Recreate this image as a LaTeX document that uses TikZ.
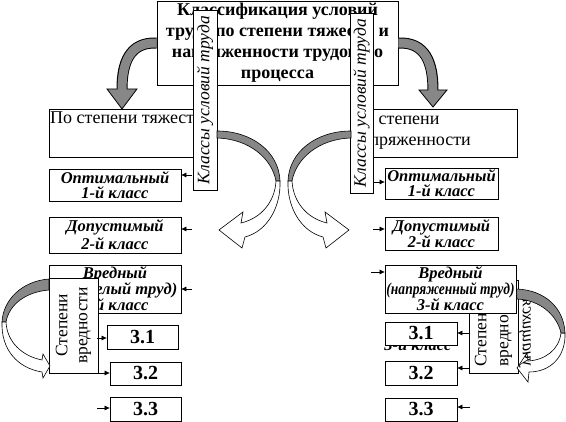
\documentclass[tikz,border=0pt]{standalone}
\usepackage{fontspec}
\setmainfont{Liberation Serif}
\usepackage{graphicx}
\usetikzlibrary{arrows.meta}
\definecolor{bandgray}{HTML}{878787}
\tikzset{
  bx/.style={draw=black, fill=white, line width=0.8pt, inner sep=0pt, align=center},
  clsA/.style={font=\bfseries\itshape\fontsize{16.5}{15}\selectfont},
  num/.style={font=\bfseries\fontsize{20}{20}\selectfont},
  plain/.style={font=\fontsize{18}{21}\selectfont},
  vtxt/.style={font=\itshape\fontsize{17.5}{17.5}\selectfont},
  sarr/.style={line width=0.7pt, -{Triangle[length=5pt,width=4.5pt]}},
  grayband/.style={fill=bandgray, draw=black, line width=0.6pt},
  whiteband/.style={fill=white, draw=black, line width=0.6pt},
}
\begin{document}
\begin{tikzpicture}[x=1pt,y=-1pt]
\useasboundingbox (0,0) rectangle (566,422);
\fill[white] (0,0) rectangle (566,422);

% title
\node[bx, minimum width=241pt, minimum height=84pt,
      font=\bfseries\fontsize{18}{21}\selectfont] (title) at (277.5,43)
  {Классификация условий\\труда по степени тяжести и\\напряженности трудового\\процесса};

% big gray arrows
\draw[line width=11pt, black] (title.west) .. controls (130,42) and (122,62) .. (122,89);
\filldraw[fill=bandgray, draw=black, line width=0.8pt] (107,89) -- (137,89) -- (122,109) -- cycle;
\draw[line width=9pt, bandgray] (title.west) .. controls (130,42) and (122,62) .. (122,90.5);

\draw[line width=11pt, black] (title.east) .. controls (425,42) and (433,62) .. (433,90);
\filldraw[fill=bandgray, draw=black, line width=0.8pt] (419,90) -- (447,90) -- (433,107) -- cycle;
\draw[line width=9pt, bandgray] (title.east) .. controls (425,42) and (433,62) .. (433,91.5);

% По степени boxes
\node[bx, minimum width=161pt, minimum height=48pt] (pl) at (129.5,133) {};
\node[plain, inner sep=0pt, anchor=base west] (plt) at (50,124) {По степени тяжести};
\node[bx, minimum width=162pt, minimum height=48pt] (pr) at (436,133) {};
\node[plain, inner sep=0pt, anchor=north west, align=left] (prt) at (352,113) {По степени\\напряженности};

% vertical boxes
\node[bx, vtxt, rotate=90, minimum width=180pt, minimum height=24pt] (vl) at (205,100) {Классы условий труда};
\node[bx, vtxt, rotate=90, minimum width=180pt, minimum height=23pt] (vr) at (361.5,103) {Классы условий труда};

% middle curved arrows
\filldraw[grayband] (217,131) .. controls (252,131) and (279,152) .. (280,181) -- (276,181) .. controls (272,159) and (250,139) .. (217,138) -- cycle;
\filldraw[whiteband] (276,181) .. controls (275,201) and (262,218) .. (241,223) -- (243,212) -- (219,230) -- (242,248) -- (245,237) .. controls (268,231) and (281,206) .. (280,181) -- cycle;
\begin{scope}[shift={(568,0)}, xscale=-1]
\filldraw[grayband] (217,131) .. controls (252,131) and (279,152) .. (280,181) -- (276,181) .. controls (272,159) and (250,139) .. (217,138) -- cycle;
\filldraw[whiteband] (276,181) .. controls (275,201) and (262,218) .. (241,223) -- (243,212) -- (219,230) -- (242,248) -- (245,237) .. controls (268,231) and (281,206) .. (280,181) -- cycle;
\end{scope}

% class boxes, left
\node[bx, clsA, minimum width=132pt, minimum height=32pt] (lo) at (115,185) {Оптимальный\\1-й класс};
\node[bx, font=\bfseries\itshape\fontsize{16.5}{18}\selectfont, minimum width=132pt, minimum height=36pt] (ld) at (115,235) {Допустимый\\2-й класс};
\node[bx, font=\bfseries\itshape\fontsize{16.5}{16}\selectfont, minimum width=132pt, minimum height=48pt] (lv) at (115,289) {Вредный\\(тяжелый труд)\\3-й класс};

% class boxes, right
\node[bx, clsA, minimum width=113pt, minimum height=31pt] (ro) at (441.5,183.5) {Оптимальный\\1-й класс};
\node[bx, font=\bfseries\itshape\fontsize{16.5}{16}\selectfont, minimum width=113pt, minimum height=33pt] (rd) at (441.5,233.5) {Допустимый\\2-й класс};
\node[bx, rotate=90, minimum width=93pt, minimum height=49pt, text width=80pt, align=left,
      font=\fontsize{17.5}{22}\selectfont] (sr) at (493.5,326.5) {Степени\\вредности};
\node[bx, font=\bfseries\itshape\fontsize{16.5}{16}\selectfont, minimum width=131pt, minimum height=48pt] (rv) at (450.5,289)
  {Вредный\\\resizebox{128pt}{\height}{(напряженный труд)}\\3-й класс};

% left degrees box
\node[bx, rotate=90, minimum width=95pt, minimum height=49pt, font=\fontsize{17.5}{20}\selectfont] (sl) at (73.5,325.5) {Степени\\вредности};

% lower curved arrows
\filldraw[grayband] (49,279) .. controls (22,281) and (3,300) .. (2,322) -- (6,322) .. controls (9,305) and (25,292) .. (49,290) -- cycle;
\filldraw[whiteband] (6,322) .. controls (7,342) and (22,356) .. (42,360) -- (43,354) -- (50,366) -- (43,378) -- (42,372) .. controls (17,368) and (1,349) .. (2,322) -- cycle;

\filldraw[whiteband] (561,333) .. controls (559,350) and (545,360) .. (528,361) -- (527,353) -- (517,368) -- (528,382) -- (529,372) .. controls (551,372) and (566,356) .. (565,333) -- cycle;
\node[rotate=90, yscale=-1, anchor=west, inner sep=0pt, font=\itshape\fontsize{17}{17}\selectfont] (uch) at (525,367) {учащихся};
\filldraw[grayband] (rv.east |- 0,289) .. controls (545,290) and (564,308) .. (565,333) -- (561,333) .. controls (557,315) and (540,300) .. (517,299) -- cycle;

% 3.x boxes
\node[clsA, anchor=base, inner sep=0pt] (ghost) at (418,351) {3-й класс};
\node[bx, num, minimum width=71pt, minimum height=24pt] (l1) at (142.5,337) {3.1};
\node[bx, num, minimum width=71pt, minimum height=23pt] (l2) at (145.5,373.5) {3.2};
\node[bx, num, minimum width=71pt, minimum height=24pt] (l3) at (145.5,409) {3.3};
\node[bx, num, minimum width=72pt, minimum height=23pt] (r1) at (421,333.5) {3.1};
\node[bx, num, minimum width=72pt, minimum height=24pt] (r2) at (421,373) {3.2};
\node[bx, num, minimum width=72pt, minimum height=23pt] (r3) at (421,409.5) {3.3};

% small arrows
\coordinate (a1) at (192,175); \draw[sarr] (a1) -- (a1 -| lo.east);
\coordinate (a2) at (192,229); \draw[sarr] (a2) -- (a2 -| ld.east);
\coordinate (a3) at (192,289); \draw[sarr] (a3) -- (a3 -| lv.east);
\coordinate (b1) at (373,182); \draw[sarr] (b1) -- (b1 -| ro.west);
\coordinate (b2) at (373,229); \draw[sarr] (b2) -- (b2 -| rd.west);
\coordinate (b3) at (371,272); \draw[sarr] (b3) -- (b3 -| rv.west);
\coordinate (c1) at (97,338); \draw[sarr] (c1) -- (c1 -| l1.west);
\coordinate (c2) at (97,373); \draw[sarr] (c2) -- (c2 -| l2.west);
\coordinate (c3) at (97,408); \draw[sarr] (c3) -- (c3 -| l3.west);
\coordinate (d1) at (470,333); \draw[sarr] (d1) -- (d1 -| r1.east);
\coordinate (d2) at (470,368); \draw[sarr] (d2) -- (d2 -| r2.east);
\coordinate (d3) at (470,407); \draw[sarr] (d3) -- (d3 -| r3.east);
\end{tikzpicture}
\end{document}
